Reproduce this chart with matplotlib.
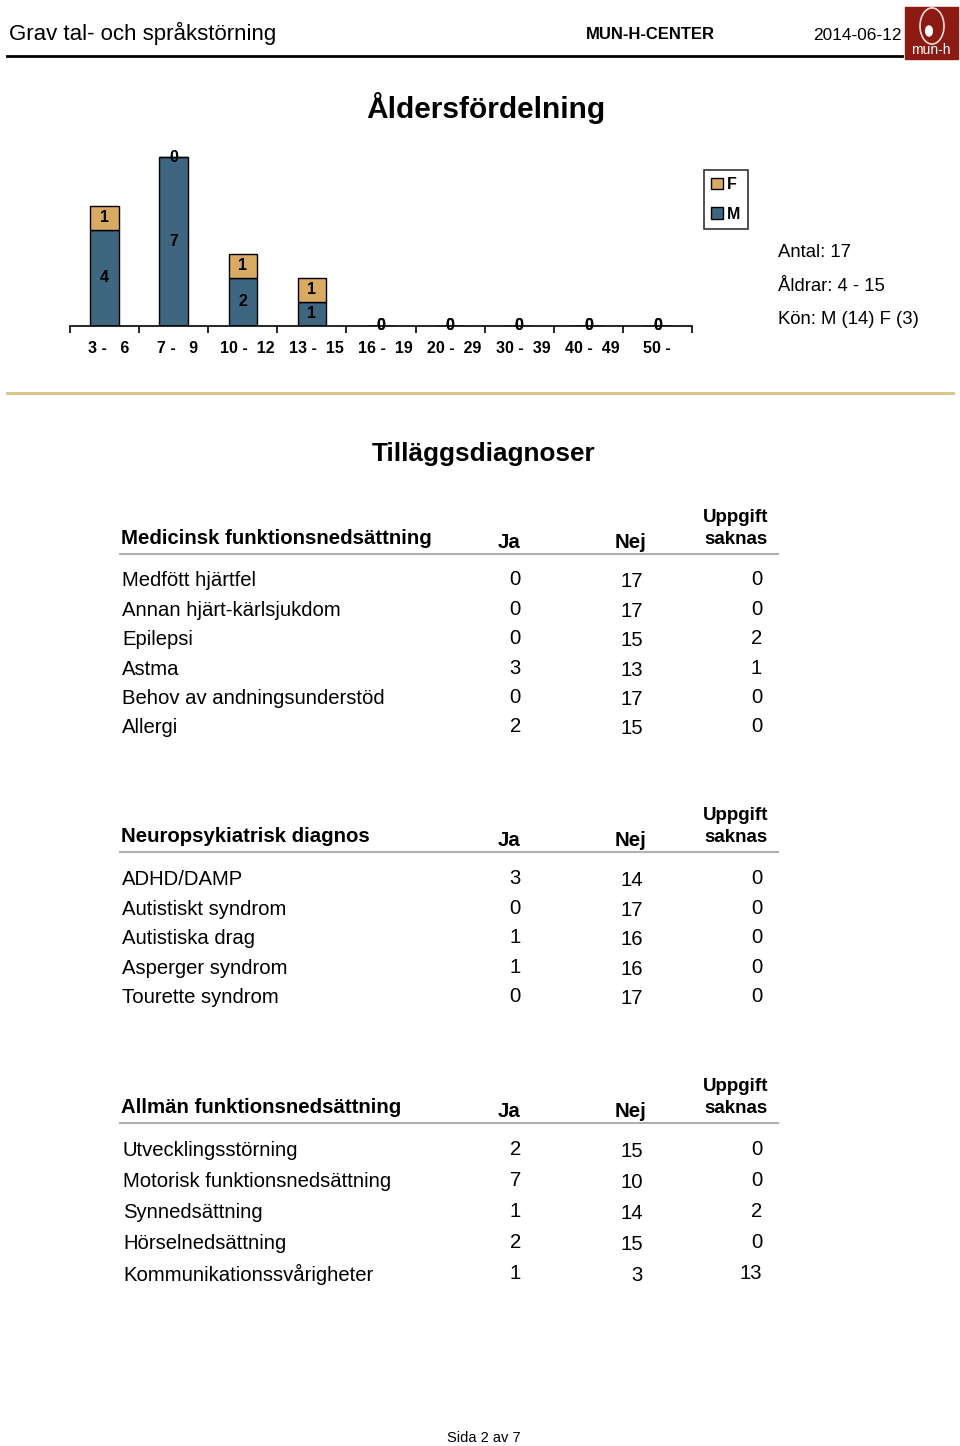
import numpy as np
import matplotlib
matplotlib.use('Agg')
import matplotlib.pyplot as plt
from matplotlib.patches import Rectangle, Circle

plt.rcParams['font.family'] = ['Liberation Sans', 'DejaVu Sans']

# Åldersfördelning
age_groups = ['3 -   6', '7 -   9', '10 -  12', '13 -  15', '16 -  19',
              '20 -  29', '30 -  39', '40 -  49', '50 -  ']
men = [4, 7, 2, 1, 0, 0, 0, 0, 0]
women = [1, 0, 1, 1, 0, 0, 0, 0, 0]
summary = ['Antal: 17', 'Åldrar: 4 - 15', 'Kön: M (14) F (3)']

# Tilläggsdiagnoser
med_title = 'Medicinsk funktionsnedsättning'
med_rows = ['Medfött hjärtfel', 'Annan hjärt-kärlsjukdom', 'Epilepsi', 'Astma',
            'Behov av andningsunderstöd', 'Allergi']
med_ja = [0, 0, 0, 3, 0, 2]
med_nej = [17, 17, 15, 13, 17, 15]
med_saknas = [0, 0, 2, 1, 0, 0]

neuro_title = 'Neuropsykiatrisk diagnos'
neuro_rows = ['ADHD/DAMP', 'Autistiskt syndrom', 'Autistiska drag',
              'Asperger syndrom', 'Tourette syndrom']
neuro_ja = [3, 0, 1, 1, 0]
neuro_nej = [14, 17, 16, 16, 17]
neuro_saknas = [0, 0, 0, 0, 0]

allm_title = 'Allmän funktionsnedsättning'
allm_rows = ['Utvecklingsstörning', 'Motorisk funktionsnedsättning',
             'Synnedsättning', 'Hörselnedsättning', 'Kommunikationssvårigheter']
allm_ja = [2, 7, 1, 2, 1]
allm_nej = [15, 10, 14, 15, 3]
allm_saknas = [0, 0, 2, 0, 13]

W, H = 960, 1446
fig = plt.figure(figsize=(W / 100, H / 100), dpi=100)


def txt(x, y, s, **kw):
    # y = mitten av versalerna i pixlar uppifrån
    kw.setdefault('va', 'center')
    return fig.text(x / W, 1 - (y + 2.5) / H, s, **kw)


# sidhuvud
txt(9, 31, 'Grav tal- och språkstörning', fontsize=16)
txt(650, 32, 'MUN-H-CENTER', fontsize=12, weight='bold', ha='center')
txt(902, 33, '2014-06-12', fontsize=12.4, ha='right')
fig.add_artist(plt.Line2D([7 / W, 902 / W], [1 - 56 / H] * 2, color='black', lw=2))
fig.add_artist(Rectangle((905 / W, 1 - 59 / H), 53 / W, 52 / H, color='#8b1a12'))
fig.add_artist(Circle((932 / W, 1 - 26 / H), 0.0125, transform=fig.transFigure,
                      fill=False, ec='#f4dcd8', lw=1.2))
fig.add_artist(Circle((929 / W, 1 - 31 / H), 0.0035, transform=fig.transFigure,
                      color='white'))
txt(931, 48, 'mun-h', fontsize=10, color='white', ha='center')

txt(486, 106, 'Åldersfördelning', fontsize=21.5, weight='bold', ha='center')

# stapeldiagram
ax = fig.add_axes([70 / W, 1 - 326 / H, 622 / W, 186 / H])
x = np.arange(len(age_groups))
bm = ax.bar(x, men, width=0.41, color='#3f6680', edgecolor='black', lw=1, label='M')
bf = ax.bar(x, women, width=0.41, bottom=men, color='#d9aa62', edgecolor='black',
            lw=1, label='F')
for i in range(len(x)):
    ax.text(x[i], men[i] / 2, str(men[i]), ha='center', va='center',
            fontsize=11.5, weight='bold')
    ax.text(x[i], men[i] + women[i] / 2, str(women[i]), ha='center', va='center',
            fontsize=11.5, weight='bold')
ax.set_xlim(-0.5, len(x) - 0.5)
ax.set_ylim(0, 7.72)
for s in ['top', 'right', 'left']:
    ax.spines[s].set_visible(False)
ax.spines['bottom'].set_linewidth(1.2)
ax.set_yticks([])
ax.set_xticks(np.arange(-0.5, len(x)), minor=False)
ax.set_xticklabels([])
ax.tick_params(axis='x', length=5, width=1.2, direction='out')
ax.set_xticks(x + 0.06, minor=True)
ax.set_xticklabels(age_groups, minor=True, fontsize=11.5, weight='bold')
ax.tick_params(axis='x', which='minor', length=0, pad=11)
ax.patch.set_visible(False)

leg = fig.legend([bf, bm], ['F', 'M'], loc='upper left',
                 bbox_to_anchor=(704 / W, 1 - 170 / H), borderaxespad=0,
                 fancybox=False, edgecolor='black', handlelength=0.75,
                 handleheight=0.75, handletextpad=0.25, borderpad=0.45,
                 labelspacing=0.9, prop={'weight': 'bold', 'size': 11.5})
leg.get_frame().set_linewidth(1.2)

for yy, s in zip([250, 284, 317], summary):
    txt(778, yy, s, fontsize=13.3)

fig.add_artist(plt.Line2D([7 / W, 953 / W], [1 - 393 / H] * 2, color='#d8c283', lw=2))

txt(484, 452, 'Tilläggsdiagnoser', fontsize=18.8, weight='bold', ha='center')


def table(title, rows, ja, nej, saknas, y_head, y_rows, lx=122):
    txt(121, y_head, title, fontsize=14.7, weight='bold')
    txt(509, y_head + 4, 'Ja', fontsize=14.7, weight='bold', ha='center')
    txt(630, y_head + 4, 'Nej', fontsize=14.7, weight='bold', ha='center')
    txt(736, y_head - 21, 'Uppgift', fontsize=13.5, weight='bold', ha='center')
    txt(736, y_head + 1, 'saknas', fontsize=13.5, weight='bold', ha='center')
    fig.add_artist(plt.Line2D([120 / W, 778 / W], [1 - (y_head + 18) / H] * 2,
                              color='#b0b0b0', lw=1.5))
    for yy, r, a, b, c in zip(y_rows, rows, ja, nej, saknas):
        txt(lx, yy, r, fontsize=14.6)
        txt(521, yy - 1, str(a), fontsize=14.6, ha='right')
        txt(643, yy + 1, str(b), fontsize=14.6, ha='right')
        txt(762, yy - 1, str(c), fontsize=14.6, ha='right')


table(med_title, med_rows, med_ja, med_nej, med_saknas, 536,
      [578, 608, 637, 667, 696, 725])
table(neuro_title, neuro_rows, neuro_ja, neuro_nej, neuro_saknas, 834,
      [877, 907, 936, 966, 995])
table(allm_title, allm_rows, allm_ja, allm_nej, allm_saknas, 1105,
      [1148, 1179, 1210, 1241, 1272], lx=123)

txt(484, 1436, 'Sida 2 av 7', fontsize=10.5, ha='center')

fig.savefig('out.png', dpi=100)
